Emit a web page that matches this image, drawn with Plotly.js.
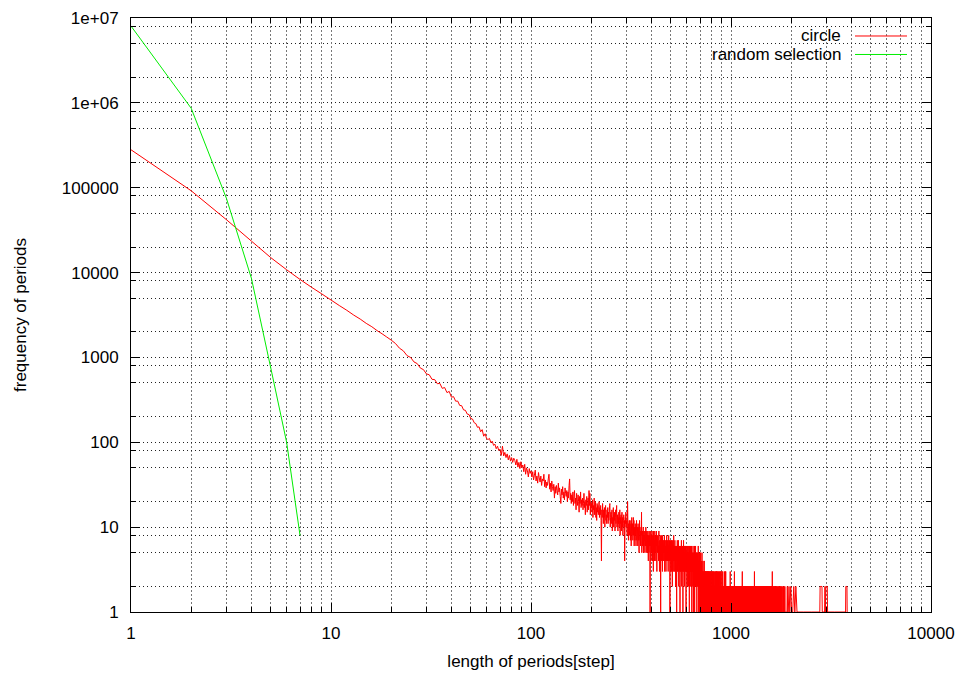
<!DOCTYPE html>
<html><head><meta charset="utf-8">
<script src="https://cdn.plot.ly/plotly-3.0.1.min.js"></script>
<style>html,body{margin:0;padding:0;background:#fff}</style>
</head><body><div id="chart" style="width:962px;height:673px"></div>
<script>
// ---- data: "circle" series, period length 1..300 (explicit counts)
const circleHeadStart = 1;
const circleHead = [
280000,92000,42000,23500,15000,10800,8300,6700,5600,4750,
4090,3590,3150,2830,2520,2300,2070,1900,1740,1600,
1460,1285,1195,1050,1000,885,845,748,718,640,
625,552,548,490,495,432,442,385,398,340,
345,305,306,272,270,241,238,215,212,190,
188,170,166,150,152,133,141,118,126,110,
108,111,99,103,92,95,84,90,80,83,
70,90,69,76,66,73,62,70,60,66,
58,65,61,54,63,51,58,49,59,50,
54,45,55,42,50,46,39,49,43,46,
39,45,36,41,47,35,40,33,44,38,
34,40,31,37,35,42,30,36,29,34,
31,37,42,28,33,26,35,30,27,32,
22,30,25,31,27,24,33,26,29,23,
19,28,24,30,22,26,21,29,25,23,
27,20,26,22,31,37,21,25,19,24,
20,26,18,23,27,19,22,16,25,21,
18,24,20,15,23,19,26,17,21,18,
22,16,19,25,17,20,14,21,18,23,
15,19,22,16,27,18,25,14,20,17,
19,15,21,13,18,16,22,14,17,20,
13,17,12,19,15,18,14,16,20,13,
17,14,18,12,4,16,13,19,15,11,
16,13,17,10,15,18,12,14,11,16,
13,17,11,15,12,14,18,19,10,13,
15,11,14,16,9,13,12,17,10,14,
12,15,9,13,16,11,14,18,10,12,
14,9,13,11,15,10,12,16,8,13,
11,14,9,12,15,10,13,8,11,12,
14,10,12,4,9,13,11,15,10,12
];
// ---- "circle" counts for lengths 301..1900, one base-36 digit per length (0 = no period of that length)
const circleTailStart = 301;
const circleTail = [
"b98kca7b9c","8ac79b6ad8","9b7ad8c69a","7b8a69c78a","96b87a59c8",
"7968a8f579","697a586978","5976a85796","8579648759","6851769478",
"5796486739","6857496587","4769538675","8564795637","6485176584",
"7563864756","4756836574","6537648564","5746365845","6475164573",
"5647356426","7453658453","6457354625","4653164573","5463574256",
"4536415634","6354742546","3546154374","5364254635","4635416435",
"3546245364","5342643514","6345243643","5243641534","3542463415",
"4352436143","5324634253","4253145324","3524362413","4352341532",
"3425132312","4213152312","3214231221",
"2313421322","3121323123","1322131232",
"2132312213","1231322132","1223121321",
"3122132112","2132212312","2131221321",
"1221312202","2131212312","2112313221",
"3121213122","1202312212","2312121302",
"1221132120","2312212121","3021221132",
"1221120212","2212113201","2121231202",
"3121211202","1221221102","2121120212",
"2120212121","2212021221","3102212112",
"2120212120","1221201212","2102121201",
"2121201213","1202121021","2110212012",
"1201212102","1021201212","0212101221",
"2101212012","1202112102","1210212021",
"0212101212","1021201231","2012102121",
"1210210212","0121021201","2101202121",
"0212012102","1201210212","0121020121",
"2012102120","1210201212","0210121020",
"1201210202","1021202101","2102012120",
"1202101212","0210201210","2012102012",
"1020121023","1201020121","0210120102",
"1201020120","2101201021","0120102120",
"1020120102","1201021012","0210102012",
"1020101201","2010210120","1020120101",
"2010201201","0120102010","2101020120",
"1020102101","2010120102","0102010210",
"1201020101","0210201020","1020102012",
"0102010201","2010102010","1020101020",
"1010201020","1020101201","0101020102",
"1020101020","0101201010","2010102010",
"1010201030","1020101010","2010101020",
"1010102010","0101020101","0201010102",
"0101010201","0101020101","0102010100",
"1020100101","0201010010","1010201001",
"0101002010","1001010201","0010101002",
"1010010201","0010100102","0100101001",
"0201001010","0100201001","0100100101",
"0010200100","1001001020","0100100010",
"1002001001","0001001020","0100010010",
"0100100100","0100010001","0010001000"
].join('');
// ---- "circle" sparse long periods beyond 1900
const circleSparseX = [1905,1912,1920,1934,1950,1968,1990,2010,2035,2060,2085,2110,2138,2300,2520,2780,2790,2850,2860,2940,2950,2960,2980,3030,3040,3300,3740,3750,3800,3810];
const circleSparseY = [1,2,1,1,2,1,2,1,1,2,1,2,1,1,1,1,2,2,1,1,2,1,2,2,1,1,1,2,2,1];
// ---- "random selection" series
const randomX = [1,2,3,4,5,6,7];
const randomY = [8040000,863000,75000,8560,750,100,8];

// ---- axis ticks
const xTickVals = [1,10,100,1000,10000];
const xTickText = ["1","10","100","1000","10000"];
const yTickVals = [1,10,100,1000,10000,100000,1000000,10000000];
const yTickText = ["1","10","100","1000","10000","100000","1e+06","1e+07"];
const xMinorMult = [2,3,4,5,6,7,8,9];
const yMinorMult = [2,5,8];

const xMinor = [], yMinor = [];
for (let d=0; d<4; d++) xMinorMult.forEach(m=>xMinor.push(m*Math.pow(10,d)));
for (let d=0; d<7; d++) yMinorMult.forEach(m=>yMinor.push(m*Math.pow(10,d)));

const cx=[], cy=[];
circleHead.forEach((v,i)=>{cx.push(circleHeadStart+i); cy.push(v);});
for (let i=0;i<circleTail.length;i++){
  const v=parseInt(circleTail[i],36);
  if (v>0){cx.push(circleTailStart+i); cy.push(v);}
}
circleSparseX.forEach((x,i)=>{cx.push(x); cy.push(circleSparseY[i]);});

const FONT = "Liberation Sans, Arial, Helvetica, sans-serif";
const XGRID = '#777', YGRID = '#222';

const traces = [
  {x:cx, y:cy, type:'scatter', mode:'lines', name:'circle',
   line:{color:'#ff0000', width:1, simplify:false}, showlegend:false, hoverinfo:'skip'},
  {x:randomX, y:randomY, type:'scatter', mode:'lines', name:'random selection',
   line:{color:'#00ee00', width:1, simplify:false}, showlegend:false, hoverinfo:'skip'}
];

const axisCommon = {
  type:'log', showline:true, linecolor:'#000', linewidth:1, mirror:'ticks',
  ticks:'inside', ticklen:9, tickcolor:'#000', tickwidth:1,
  showgrid:true, gridwidth:1,
  zeroline:false, tickmode:'array',
  tickfont:{family:FONT, size:17, color:'#000'}
};

const layout = {
  width:962, height:673,
  margin:{l:131, r:31, t:18, b:61},
  paper_bgcolor:'#fff', plot_bgcolor:'#fff',
  showlegend:false,
  xaxis: Object.assign({}, axisCommon, {
    range:[0,4], tickvals:xTickVals, ticktext:xTickText, ticklabelstandoff:6,
    gridcolor:XGRID, griddash:'2px,2px',
    minor:{tickmode:'array', tickvals:xMinor, ticks:'inside', ticklen:5, tickcolor:'#000',
           showgrid:true, gridcolor:XGRID, griddash:'2px,2px', gridwidth:1},
    title:{text:'length of periods[step]', font:{family:FONT, size:17, color:'#000'}, standoff:12}
  }),
  yaxis: Object.assign({}, axisCommon, {
    range:[0,7], tickvals:yTickVals, ticktext:yTickText, ticklabelstandoff:8,
    gridcolor:YGRID, griddash:'1px,3px',
    minor:{tickmode:'array', tickvals:yMinor, ticks:'inside', ticklen:5, tickcolor:'#000',
           showgrid:true, gridcolor:YGRID, griddash:'1px,3px', gridwidth:1},
    title:{text:'frequency of periods', font:{family:FONT, size:17, color:'#000'}, standoff:30}
  }),
  shapes:[
    {type:'rect', xref:'paper', yref:'paper', x0:0.665, x1:1, y0:0.921, y1:1,
     fillcolor:'#fff', line:{width:0}, layer:'between'},
    {type:'line', xref:'paper', yref:'paper', x0:0.905, x1:0.97, y0:0.9697, y1:0.9697,
     line:{color:'#ff0000', width:1}},
    {type:'line', xref:'paper', yref:'paper', x0:0.905, x1:0.97, y0:0.9386, y1:0.9386,
     line:{color:'#00ee00', width:1}}
  ],
  annotations:[
    {text:'circle', xref:'paper', yref:'paper', x:0.89, y:0.9697, xanchor:'right', yanchor:'middle',
     showarrow:false, font:{family:FONT, size:17, color:'#000'}},
    {text:'random selection', xref:'paper', yref:'paper', x:0.89, y:0.9386, xanchor:'right', yanchor:'middle',
     showarrow:false, font:{family:FONT, size:17, color:'#000'}}
  ]
};

Plotly.newPlot('chart', traces, layout, {staticPlot:true, displayModeBar:false});
</script></body></html>
